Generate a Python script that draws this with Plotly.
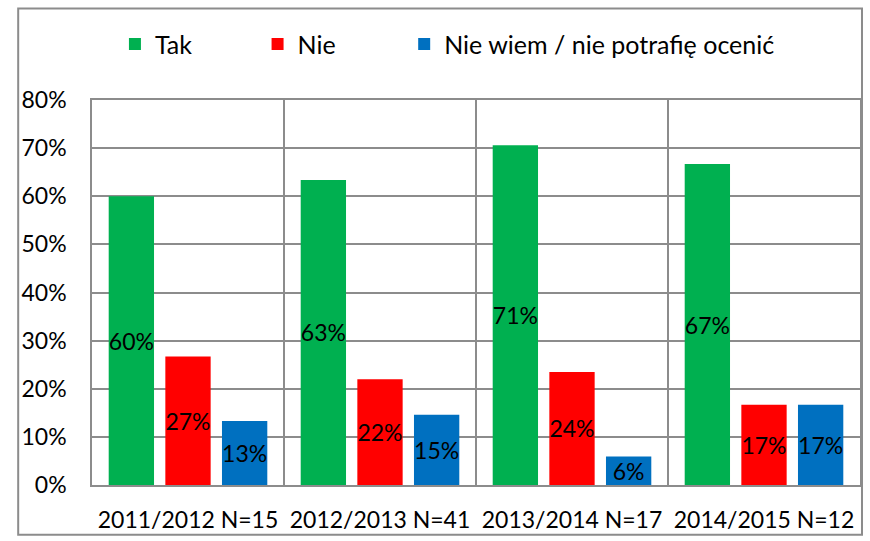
import plotly.graph_objects as go

# Survey results per academic year (share of respondents)
years = ["2011/2012 N=15", "2012/2013 N=41", "2013/2014 N=17", "2014/2015 N=12"]
tak = [0.600, 0.634, 0.706, 0.667]
nie = [0.267, 0.220, 0.235, 0.167]
nie_wiem = [0.133, 0.146, 0.059, 0.167]

series = [
    ("Tak", tak, "#00B050", "legend"),
    ("Nie", nie, "#FF0000", "legend2"),
    ("Nie wiem / nie potrafię ocenić", nie_wiem, "#0070C0", "legend3"),
]

FONT = "Lato"
GRID = "#8C8C8C"
FS = 23

fig = go.Figure()
for name, vals, color, leg in series:
    fig.add_trace(go.Bar(
        x=years, y=vals, name=name, legend=leg,
        marker=dict(color=color, line=dict(width=0)),
        texttemplate="%{y:.0%}",
        textposition="inside",
        insidetextanchor="middle",
        textangle=0,
        constraintext="none",
        textfont=dict(family=FONT, size=FS, color="black"),
        cliponaxis=False,
    ))

W, H = 870, 541
ml, mr, mt, mb = 92, 8, 100, 54
pw, ph = W - ml - mr, H - mt - mb


def legend_at(px):
    # one legend box per series, left edge given in pixels
    return dict(
        orientation="h", x=(px - ml) / pw, xanchor="left",
        y=(mt + ph - 44) / ph, yanchor="middle", bgcolor="rgba(0,0,0,0)",
        font=dict(family=FONT, size=25, color="black"),
        itemclick=False,
    )


fig.update_layout(
    width=W, height=H,
    margin=dict(l=ml, r=mr, t=mt, b=mb),
    paper_bgcolor="white", plot_bgcolor="white",
    barmode="group", bargap=0.115, bargroupgap=0.2,
    uniformtext=dict(minsize=FS, mode="show"),
    font=dict(family=FONT, size=FS, color="black"),
    legend=legend_at(115),
    legend2=legend_at(258),
    legend3=legend_at(405),
    showlegend=True,
)

fig.update_xaxes(
    type="category", tickson="boundaries", showgrid=True,
    gridcolor=GRID, gridwidth=1.5,
    showline=True, linecolor=GRID, linewidth=1.5, mirror=True,
    ticks="", ticklabelstandoff=14,
    tickfont=dict(family=FONT, size=FS, color="black"),
)
fig.update_yaxes(
    range=[0, 0.8], dtick=0.1, tickformat=".0%",
    showgrid=True, gridcolor=GRID, gridwidth=1.5,
    showline=True, linecolor=GRID, linewidth=1.5, mirror=True,
    zeroline=False, ticks="", ticklabelstandoff=19,
    tickfont=dict(family=FONT, size=FS, color="black"),
)

# Outer frame around the whole chart
fx0, fx1, fy0, fy1 = 18, 864, 8, 537
fig.add_shape(
    type="rect", xref="paper", yref="paper", layer="below",
    x0=(fx0 - ml) / pw, x1=(fx1 - ml) / pw,
    y0=(mt + ph - fy1) / ph, y1=(mt + ph - fy0) / ph,
    line=dict(color="#8C8C8C", width=2), fillcolor="rgba(0,0,0,0)",
)

fig.write_html("out.html")
